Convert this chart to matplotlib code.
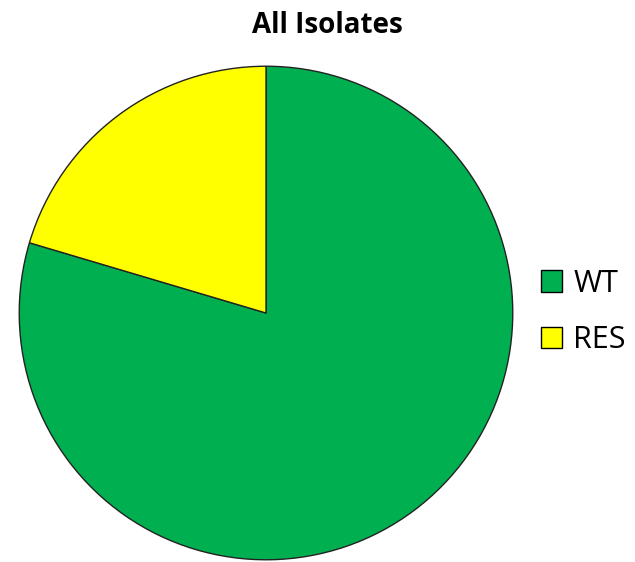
import matplotlib.pyplot as plt

categories = ['WT', 'RES']
counts = [78, 20]
colors = ['#00B050', '#FFFF00']

plt.rcParams['font.family'] = ['Open Sans', 'DejaVu Sans']

fig = plt.figure(figsize=(6.35, 5.62), dpi=100)
ax = fig.add_axes([18 / 635, 1 / 562, 496 / 635, 496 / 562])

wedges, _ = ax.pie(counts, colors=colors, startangle=90, counterclock=False,
                   radius=1.0,
                   wedgeprops=dict(edgecolor='#222222', linewidth=1.0))
ax.set_xlim(-1.005, 1.005)
ax.set_ylim(-1.005, 1.005)
ax.set_aspect('equal')

fig.text(327 / 635, 1 - 33 / 562, 'All Isolates', ha='center', va='baseline',
         fontsize=20, fontweight='bold')

leg = fig.legend(wedges, categories, loc='center left',
                 bbox_to_anchor=(541 / 635, 1 - 312 / 562), frameon=False,
                 fontsize=22, handlelength=0.7, handleheight=0.7,
                 handletextpad=0.35, labelspacing=0.88,
                 borderpad=0, borderaxespad=0)
for h in leg.legend_handles:
    h.set_edgecolor('black')
    h.set_linewidth(1.0)

fig.savefig('out.png', dpi=100)
